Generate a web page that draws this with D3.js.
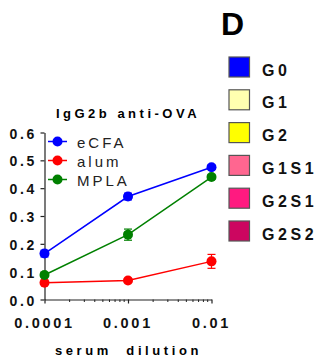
<!DOCTYPE html>
<html>
<head>
<meta charset="utf-8">
<script src="https://cdn.jsdelivr.net/npm/d3@7"></script>
<style>
body { margin: 0; background: white; }
text { font-family: Arial, "Liberation Sans", sans-serif; }
</style>
</head>
<body>
<script>
var width = 323,
    height = 364;

var dilutions = [0.0001, 0.001, 0.01];
var eCFA = [0.165, 0.37, 0.475];
var eCFAErr = [0.012, 0.012, 0.008];
var alum = [0.06, 0.068, 0.137];
var alumErr = [0.005, 0.005, 0.025];
var MPLA = [0.088, 0.233, 0.44];
var MPLAErr = [0.006, 0.02, 0.008];
var seriesNames = ["eCFA", "alum", "MPLA"];
var seriesColors = ["#0000ff", "#ff0000", "#008000"];
var yTicks = [0, 0.1, 0.2, 0.3, 0.4, 0.5, 0.6];
var xTickLabels = ["0.0001", "0.001", "0.01"];
var groups = ["G0", "G1", "G2", "G1S1", "G2S1", "G2S2"];
var groupColors = ["#0000ff", "#ffffb0", "#ffff00", "#ff6690", "#ff1a80", "#cc0660"];

var svg = d3.select("body").append("svg")
	.attr("width", width)
	.attr("height", height);

var x = d3.scaleLog().domain([0.0001, 0.01]).range([44.5, 211.5]);
var y = d3.scaleLinear().domain([0, 0.6]).range([299.5, 132.5]);

// y axis
var yAxis = svg.append("g")
	.attr("transform", "translate(" + x(0.0001) + ",0)")
	.call(d3.axisLeft(y).tickValues(yTicks).tickFormat(d3.format(".1f")).tickSize(4).tickSizeOuter(0));
yAxis.select(".domain").attr("stroke", "#222").attr("stroke-width", 1.2);
yAxis.selectAll(".tick line").attr("stroke", "#222").attr("stroke-width", 1.2);
yAxis.selectAll("text")
	.attr("x", -7.5)
	.attr("dy", "0.4em")
	.style("font-size", "14px")
	.style("font-weight", "bold")
	.style("letter-spacing", "2.7px")
	.attr("fill", "#111");

// x axis with log minor ticks
var minor = [];
for (var e = -4; e < -2; e++) {
	for (var k = 2; k <= 9; k++) minor.push(k * Math.pow(10, e));
}
var xAxis = svg.append("g")
	.attr("transform", "translate(0," + y(0) + ")")
	.call(d3.axisBottom(x).tickValues(dilutions).tickFormat(function(d,i){return xTickLabels[i]}).tickSize(4).tickSizeOuter(0));
xAxis.select(".domain").attr("stroke", "#222").attr("stroke-width", 1.2);
xAxis.selectAll(".tick line").attr("stroke", "#222").attr("stroke-width", 1.2);
xAxis.selectAll("text")
	.attr("y", 28)
	.attr("dy", 0)
	.attr("dx", "-0.5px")
	.style("font-size", "14.5px")
	.style("font-weight", "bold")
	.style("letter-spacing", "2.7px")
	.attr("fill", "#111");
svg.append("g").selectAll("line").data(minor).enter().append("line")
	.attr("x1", function(d){return x(d)})
	.attr("x2", function(d){return x(d)})
	.attr("y1", y(0))
	.attr("y2", y(0) + 2.5)
	.attr("stroke", "#222");

// title
svg.append("text")
	.attr("x", 128)
	.attr("y", 118)
	.attr("text-anchor", "middle")
	.style("font-size", "13px")
	.style("font-weight", "bold")
	.style("letter-spacing", "3.5px")
	.text("IgG2b anti-OVA");

svg.append("text")
	.attr("x", 128.5)
	.attr("y", 355)
	.attr("text-anchor", "middle")
	.style("font-size", "13px")
	.style("font-weight", "bold")
	.style("letter-spacing", "3.6px")
	.attr("xml:space", "preserve")
	.text("serum  dilution");

var allSeries = [eCFA, alum, MPLA];
var allErr = [eCFAErr, alumErr, MPLAErr];

allSeries.forEach(function(vals, s) {
	var pts = vals.map(function(v, i){ return {x: dilutions[i], y: v, e: allErr[s][i]}; });
	var col = seriesColors[s];
	svg.append("path")
		.datum(pts)
		.attr("fill", "none")
		.attr("stroke", col)
		.attr("stroke-width", 1.5)
		.attr("d", d3.line().x(function(d){return x(d.x)}).y(function(d){return y(d.y)}));
	var g = svg.append("g");
	g.selectAll("line.err").data(pts).enter().append("line")
		.attr("x1", function(d){return x(d.x)})
		.attr("x2", function(d){return x(d.x)})
		.attr("y1", function(d){return y(d.y - d.e)})
		.attr("y2", function(d){return y(d.y + d.e)})
		.attr("stroke", col).attr("stroke-width", 1.2);
	g.selectAll("line.capt").data(pts).enter().append("line")
		.attr("x1", function(d){return x(d.x) - 4})
		.attr("x2", function(d){return x(d.x) + 4})
		.attr("y1", function(d){return y(d.y + d.e)})
		.attr("y2", function(d){return y(d.y + d.e)})
		.attr("stroke", col).attr("stroke-width", 1.2);
	g.selectAll("line.capb").data(pts).enter().append("line")
		.attr("x1", function(d){return x(d.x) - 4})
		.attr("x2", function(d){return x(d.x) + 4})
		.attr("y1", function(d){return y(d.y - d.e)})
		.attr("y2", function(d){return y(d.y - d.e)})
		.attr("stroke", col).attr("stroke-width", 1.2);
	g.selectAll("circle").data(pts).enter().append("circle")
		.attr("cx", function(d){return x(d.x)})
		.attr("cy", function(d){return y(d.y)})
		.attr("r", 5)
		.attr("fill", col);
});

// series legend
var leg = svg.append("g").selectAll("g").data(seriesNames).enter().append("g")
	.attr("transform", function(d,i){return "translate(0," + (141.5 + i*19) + ")"});
leg.append("line")
	.attr("x1", 48).attr("x2", 67).attr("y1", 0).attr("y2", 0)
	.attr("stroke", function(d,i){return seriesColors[i]}).attr("stroke-width", 1.5);
leg.append("circle")
	.attr("cx", 57.5).attr("cy", 0).attr("r", 5)
	.attr("fill", function(d,i){return seriesColors[i]});
leg.append("text")
	.attr("x", 77).attr("y", 6)
	.style("font-size", "15px")
	.style("letter-spacing", "3px")
	.attr("fill", "#222")
	.text(function(d){return d});

// panel letter
svg.append("text")
	.attr("x", 221)
	.attr("y", 35)
	.style("font-size", "32px")
	.style("font-weight", "bold")
	.text("D");

// group legend
var gl = svg.append("g").selectAll("g").data(groups).enter().append("g")
	.attr("transform", function(d,i){return "translate(0," + (57 + i*32.8) + ")"});
gl.append("rect")
	.attr("x", 229).attr("y", 0).attr("width", 20.5).attr("height", 20)
	.attr("fill", function(d,i){return groupColors[i]})
	.attr("stroke", "#555").attr("stroke-width", 1.2);
gl.append("text")
	.attr("x", 262).attr("y", 18.5)
	.style("font-size", "16px")
	.style("font-weight", "bold")
	.style("letter-spacing", "3.6px")
	.attr("fill", "#111")
	.text(function(d){return d});
</script>
</body>
</html>
